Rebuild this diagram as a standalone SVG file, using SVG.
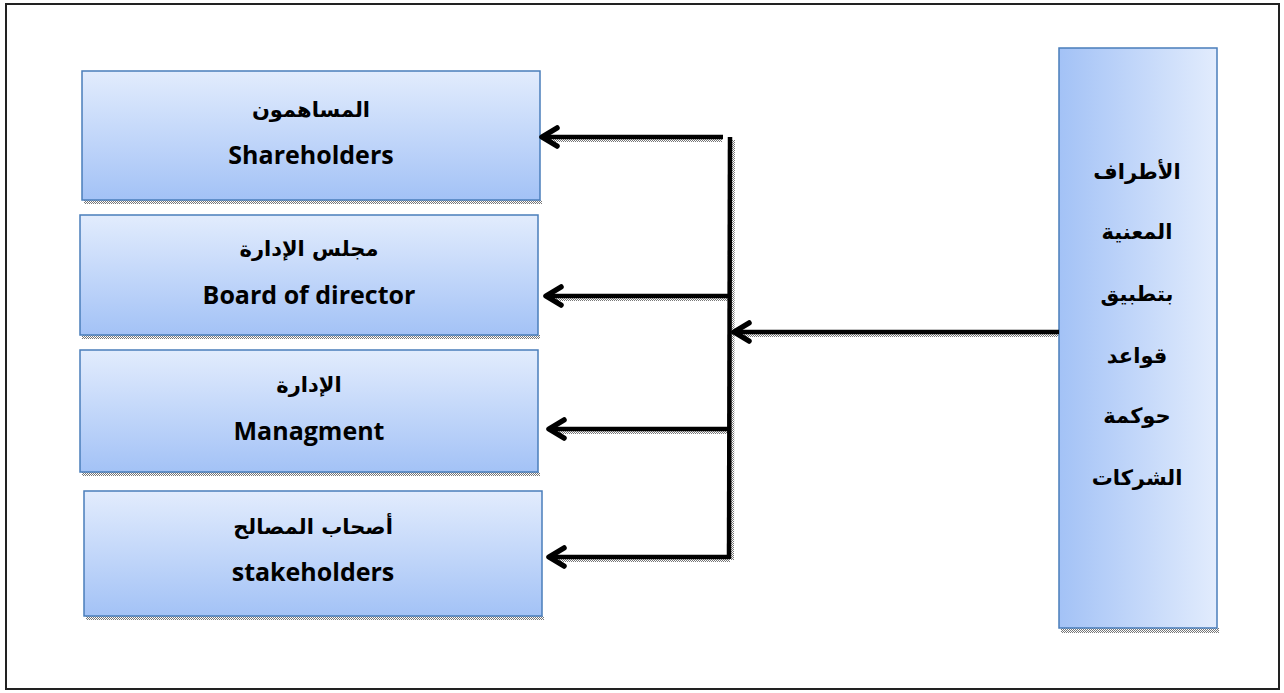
<svg xmlns="http://www.w3.org/2000/svg" width="1284" height="693" viewBox="0 0 1284 693">
<defs>
<linearGradient id="gv" x1="0" y1="0" x2="0" y2="1"><stop offset="0" stop-color="#e2ecfd"/><stop offset="1" stop-color="#a3c2f6"/></linearGradient>
<linearGradient id="gh" x1="0" y1="0" x2="1" y2="0"><stop offset="0" stop-color="#a3c2f6"/><stop offset="1" stop-color="#e2ecfd"/></linearGradient>
<pattern id="chk" width="2" height="2" patternUnits="userSpaceOnUse"><rect width="2" height="2" fill="#ffffff"/><rect width="1" height="1" fill="#777"/><rect x="1" y="1" width="1" height="1" fill="#777"/></pattern>
<marker id="ah" viewBox="0 0 26 26" refX="21" refY="13" markerWidth="26" markerHeight="26" markerUnits="userSpaceOnUse" orient="auto">
<path d="M6,4 L21,13 L6,22" fill="none" stroke="#000" stroke-width="5.5" stroke-linecap="round" stroke-linejoin="round"/>
</marker>
<style>
.box{stroke:#4a7ebb;stroke-width:1.5}
.sh{fill:url(#chk)}
.ar{font-family:"DejaVu Sans",sans-serif;font-weight:bold;font-size:21px;fill:#000;text-anchor:middle}
.en{font-family:"Open Sans","Liberation Sans",sans-serif;font-weight:bold;font-size:25px;fill:#000;text-anchor:middle}
.ln{stroke:#000;stroke-width:4.5;fill:none}
.lsh{stroke:url(#chk);stroke-width:4;fill:none}
</style>
</defs>
<rect x="6" y="4" width="1273" height="685" fill="#fff" stroke="#222" stroke-width="2"/>
<g id="n1">
<rect class="sh" x="84" y="200" width="458" height="4"/>
<rect class="box" x="82" y="71" width="458" height="129" fill="url(#gv)"/>
<text class="ar" x="311" y="117" direction="rtl">المساهمون</text>
<text class="en" x="311" y="164">Shareholders</text>
</g>
<g id="n2">
<rect class="sh" x="82" y="335" width="458" height="4"/>
<rect class="box" x="80" y="215" width="458" height="120" fill="url(#gv)"/>
<text class="ar" x="309" y="256" direction="rtl">مجلس الإدارة</text>
<text class="en" x="309" y="304">Board of director</text>
</g>
<g id="n3">
<rect class="sh" x="82" y="472" width="458" height="4"/>
<rect class="box" x="80" y="350" width="458" height="122" fill="url(#gv)"/>
<text class="ar" x="309" y="392" direction="rtl">الإدارة</text>
<text class="en" x="309" y="440">Managment</text>
</g>
<g id="n4">
<rect class="sh" x="86" y="616" width="458" height="4"/>
<rect class="box" x="84" y="491" width="458" height="125" fill="url(#gv)"/>
<text class="ar" x="313" y="534" direction="rtl">أصحاب المصالح</text>
<text class="en" x="313" y="581">stakeholders</text>
</g>
<g id="n5">
<rect class="sh" x="1061" y="628" width="158" height="5"/>
<rect class="box" x="1059" y="48" width="158" height="580" fill="url(#gh)"/>
<g class="ar" direction="rtl">
<text x="1137" y="179">الأطراف</text>
<text x="1137" y="239">المعنية</text>
<text x="1137" y="301">بتطبيق</text>
<text x="1137" y="363">قواعد</text>
<text x="1137" y="423">حوكمة</text>
<text x="1137" y="485">الشركات</text>
</g>
</g>
<g id="connectors">
<g class="lsh">
<line x1="733" y1="140" x2="732" y2="560"/>
<line x1="722" y1="140" x2="550" y2="140"/>
<line x1="730" y1="299" x2="554" y2="299"/>
<line x1="730" y1="432" x2="558" y2="432"/>
<line x1="730" y1="560" x2="558" y2="560"/>
<line x1="1058" y1="335" x2="744" y2="335"/>
</g>
<line class="ln" x1="730" y1="137" x2="729" y2="559"/>
<line class="ln" x1="723" y1="137" x2="542" y2="137" marker-end="url(#ah)"/>
<line class="ln" x1="730" y1="296" x2="546" y2="296" marker-end="url(#ah)"/>
<line class="ln" x1="730" y1="429" x2="549" y2="429" marker-end="url(#ah)"/>
<line class="ln" x1="729" y1="557" x2="549" y2="557" marker-end="url(#ah)"/>
<line class="ln" x1="1059" y1="332" x2="734" y2="332" marker-end="url(#ah)"/>
</g>
</svg>
